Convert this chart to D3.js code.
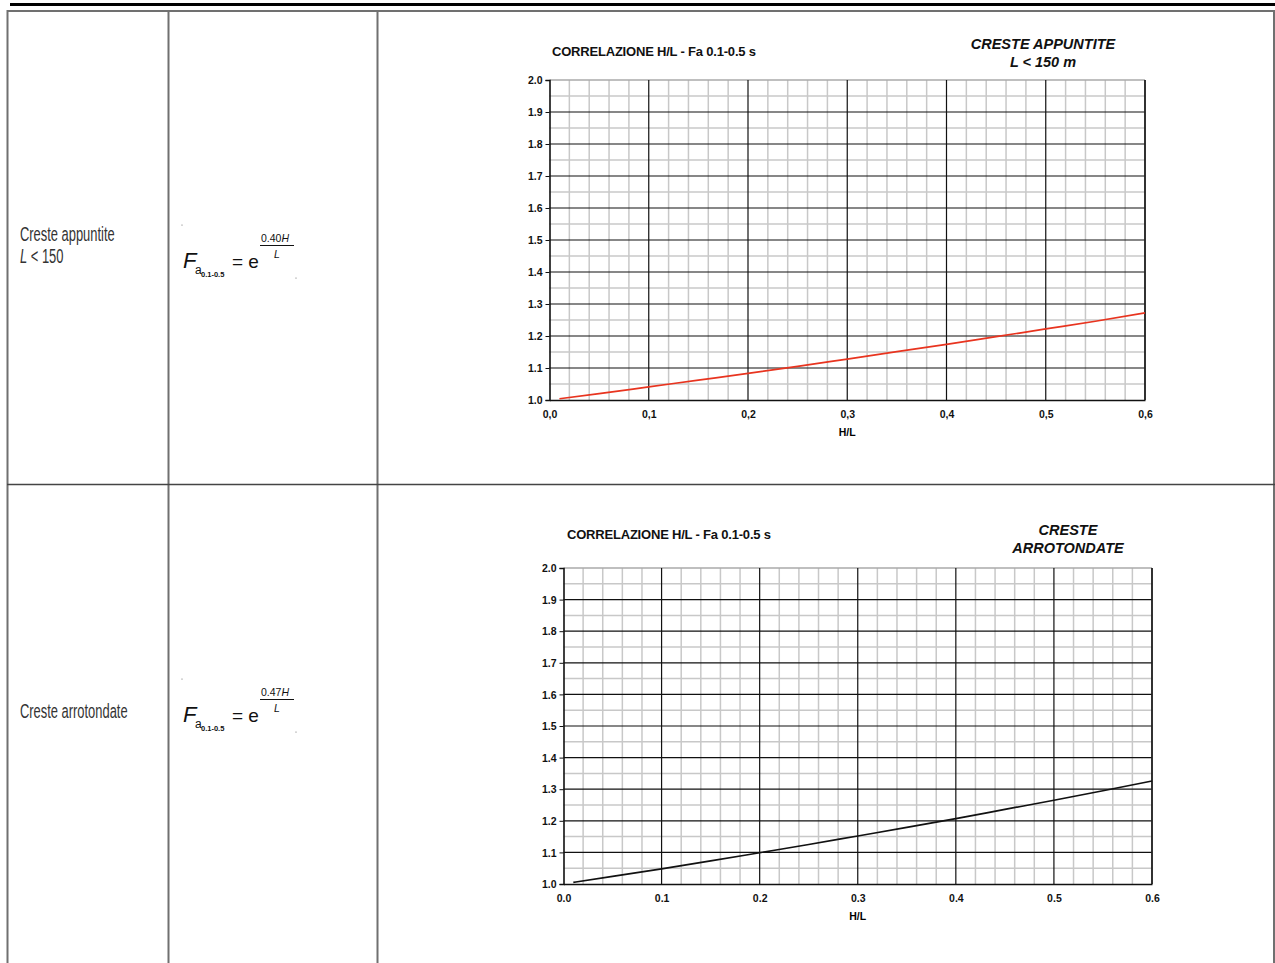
<!DOCTYPE html>
<html><head><meta charset="utf-8">
<script src="https://cdn.jsdelivr.net/npm/d3@7"></script>
<style>body{margin:0;background:#fff}svg{display:block}</style>
</head><body>
<svg id="c" width="1275" height="963"></svg>
<script>
// ---- data ----
const hl = [0.01,0.05,0.1,0.15,0.2,0.25,0.3,0.35,0.4,0.45,0.5,0.55,0.6];
const faAppuntite = [1.004,1.02,1.041,1.062,1.083,1.105,1.128,1.151,1.174,1.198,1.222,1.246,1.272];
const faArrotondate = [1.005,1.024,1.048,1.073,1.099,1.125,1.152,1.179,1.207,1.236,1.265,1.295,1.326];
const xTicksTop = ["0,0","0,1","0,2","0,3","0,4","0,5","0,6"];
const xTicksBottom = ["0.0","0.1","0.2","0.3","0.4","0.5","0.6"];
const yTicks = ["1.0","1.1","1.2","1.3","1.4","1.5","1.6","1.7","1.8","1.9","2.0"];
const chartTitle = "CORRELAZIONE H/L - Fa 0.1-0.5 s";
const rowLabels = [["Creste appuntite","L < 150"],["Creste arrotondate"]];
const exponents = ["0.40H","0.47H"];

const svg = d3.select("#c");

// top rule
svg.append("line").attr("x1",10).attr("x2",1275).attr("y1",4.5).attr("y2",4.5)
  .attr("stroke","#000").attr("stroke-width",3);

// table
const tcol = "#707070";
const tb = svg.append("g").attr("stroke",tcol).attr("stroke-width",2);
tb.append("line").attr("x1",7).attr("x2",1275).attr("y1",11).attr("y2",11);
[7.5,168.5,377.5,1274].forEach(x=>tb.append("line").attr("x1",x).attr("x2",x).attr("y1",10).attr("y2",963));
svg.append("line").attr("x1",7).attr("x2",1275).attr("y1",484.5).attr("y2",484.5).attr("stroke","#444").attr("stroke-width",1.5);

// left labels (condensed)
function condText(x,y,txt,italicFirst){
  const t = svg.append("text").attr("transform",`translate(${x},${y}) scale(0.68,1.08)`)
    .attr("font-family","Liberation Sans, Arial").attr("font-size",19).attr("fill","#333");
  if(italicFirst){
    t.append("tspan").attr("font-style","italic").text(txt[0]);
    t.append("tspan").text(txt.slice(1));
  } else t.text(txt);
}
condText(20,241,rowLabels[0][0]);
condText(20,263,rowLabels[0][1],true);
condText(20,718,rowLabels[1][0]);

// formulas
function formula(x,y,exp){
  const g = svg.append("g").attr("font-family","Liberation Sans, Arial").attr("fill","#111");
  g.append("text").attr("x",x).attr("y",y).attr("font-size",22).attr("font-style","italic").text("F");
  g.append("text").attr("x",x+12).attr("y",y+6).attr("font-size",12).text("a");
  g.append("text").attr("x",x+18).attr("y",y+9).attr("font-size",7.5).attr("font-weight","bold").text("0.1-0.5");
  g.append("text").attr("x",x+49).attr("y",y).attr("font-size",19).text("= e");
  g.append("text").attr("x",x+78).attr("y",y-26).attr("font-size",10.5).text(exp.slice(0,4))
    .append("tspan").attr("font-style","italic").text(exp.slice(4));
  g.append("line").attr("x1",x+77).attr("x2",x+111).attr("y1",y-22.5).attr("y2",y-22.5).attr("stroke","#111").attr("stroke-width",1);
  g.append("text").attr("x",x+91).attr("y",y-10).attr("font-size",10.5).attr("font-style","italic").text("L");
  g.append("circle").attr("cx",x-1).attr("cy",y-43).attr("r",0.6).attr("fill","#666");
  g.append("circle").attr("cx",x+113).attr("cy",y+10).attr("r",0.6).attr("fill","#666");
}
formula(183,268,exponents[0]);
formula(183,722,exponents[1]);

// charts
function chart(o){
  const x = d3.scaleLinear().domain([0,0.6]).range([o.l,o.r]);
  const y = d3.scaleLinear().domain([1,2]).range([o.b,o.t]);
  const g = svg.append("g");
  const minorX = d3.range(0,31).map(i=>i*0.02).filter((d,i)=>i%5!==0);
  const minorY = d3.range(0,21).map(i=>1+i*0.05).filter((d,i)=>i%2!==0);
  g.selectAll(".mx").data(minorX).join("line").attr("x1",d=>x(d)).attr("x2",d=>x(d)).attr("y1",o.t).attr("y2",o.b)
    .attr("stroke","#c8c8c8").attr("stroke-width",1.5);
  g.selectAll(".my").data(minorY).join("line").attr("y1",d=>y(d)).attr("y2",d=>y(d)).attr("x1",o.l).attr("x2",o.r)
    .attr("stroke","#c8c8c8").attr("stroke-width",1.5);
  g.append("line").attr("x1",o.l).attr("x2",o.r).attr("y1",o.t).attr("y2",o.t).attr("stroke","#aaa").attr("stroke-width",1.5);
  const majX = d3.range(1,7).map(i=>i*0.1);
  const majY = d3.range(1,10).map(i=>1+i*0.1);
  g.selectAll(".Mx").data(majX).join("line").attr("x1",d=>x(d)).attr("x2",d=>x(d)).attr("y1",o.t).attr("y2",o.b)
    .attr("stroke","#111").attr("stroke-width",1.2);
  g.selectAll(".My").data(majY).join("line").attr("y1",d=>y(d)).attr("y2",d=>y(d)).attr("x1",o.l).attr("x2",o.r)
    .attr("stroke","#111").attr("stroke-width",1.2);
  // axes
  const yAx = d3.axisLeft(y).tickValues(d3.range(0,11).map(i=>1+i*0.1)).tickFormat((d,i)=>yTicks[i]).tickSize(4).tickPadding(3);
  const xAx = d3.axisBottom(x).tickValues(d3.range(0,7).map(i=>i*0.1)).tickFormat((d,i)=>o.xlab[i]).tickSize(0).tickPadding(11);
  const ya = g.append("g").attr("transform",`translate(${o.l},0)`).call(yAx);
  const xa = g.append("g").attr("transform",`translate(0,${o.b})`).call(xAx);
  [ya,xa].forEach(a=>{
    a.selectAll("text").attr("font-family","Liberation Sans, Arial").attr("font-size",10.5).attr("font-weight","bold").attr("fill","#111");
    a.select(".domain").attr("stroke","#111").attr("stroke-width",1.6);
    a.selectAll(".tick line").attr("stroke","#111");
  });
  ya.selectAll("text").attr("dy","0.35em");
  g.append("text").attr("x",(o.l+o.r)/2).attr("y",o.b+36).attr("text-anchor","middle")
    .attr("font-family","Liberation Sans, Arial").attr("font-size",10.5).attr("font-weight","bold").text("H/L");
  g.append("line").attr("x1",o.r).attr("x2",o.r).attr("y1",o.t).attr("y2",o.b).attr("stroke","#222").attr("stroke-width",1.6);
  // curve
  const line = d3.line().x((d,i)=>x(hl[i])).y(d=>y(d)).curve(d3.curveMonotoneX);
  g.append("path").datum(o.data).attr("d",line).attr("fill","none").attr("stroke",o.color).attr("stroke-width",1.7);
  // titles
  g.append("text").attr("x",o.tx).attr("y",o.ty).attr("font-family","Liberation Sans, Arial").attr("font-size",13)
    .attr("letter-spacing","-0.2").attr("font-weight","bold").attr("fill","#111").text(chartTitle);
  o.sub.forEach((s,i)=>g.append("text").attr("x",o.sx).attr("y",o.sy+i*18).attr("text-anchor","middle")
    .attr("font-family","Liberation Sans, Arial").attr("font-size",14.5).attr("font-weight","bold").attr("font-style","italic").attr("fill","#111").text(s));
}
chart({l:549.5,r:1145,t:80,b:400,data:faAppuntite,color:"#e8341f",xlab:xTicksTop,
  tx:552,ty:56,sub:["CRESTE APPUNTITE","L < 150 m"],sx:1043,sy:49});
chart({l:563.5,r:1152,t:568,b:884,data:faArrotondate,color:"#111",xlab:xTicksBottom,
  tx:567,ty:539,sub:["CRESTE","ARROTONDATE"],sx:1068,sy:535});
</script>
</body></html>
